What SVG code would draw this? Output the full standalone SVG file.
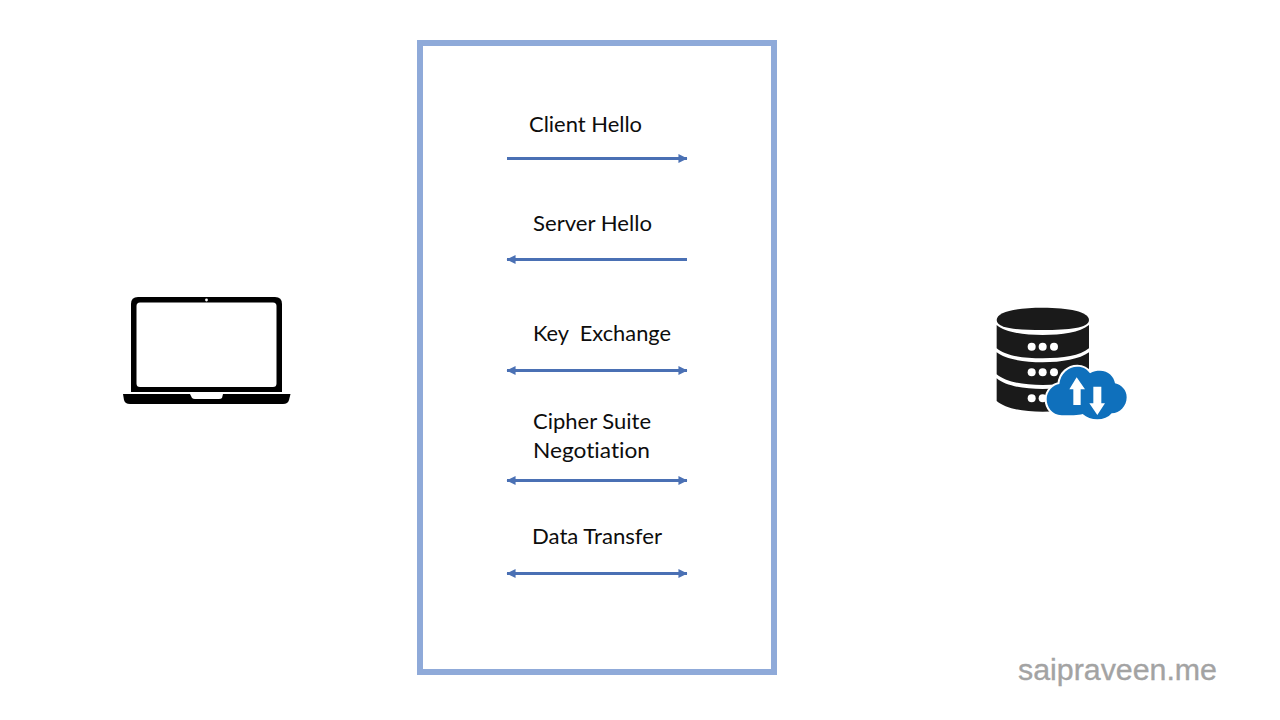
<svg xmlns="http://www.w3.org/2000/svg" width="1280" height="720" viewBox="0 0 1280 720">
<style>
.lbl{font-family:"Lato","Open Sans","Liberation Sans",sans-serif;font-size:21.5px;fill:#0d0d0d;white-space:pre;font-variant-ligatures:none}
.wm{font-family:"Liberation Sans",Arial,sans-serif;font-size:30px;fill:#a3a3a3;stroke:#a3a3a3;stroke-width:.35}
.conn{stroke:#4a70b4;stroke-width:3;fill:none}
.k{fill:#1a1a1a}
.w{fill:#fff}
.b{fill:#0f70bc}
</style>
<defs>
<marker id="ah" viewBox="0 0 10 10" refX="9.5" refY="5" markerWidth="3.1" markerHeight="3" orient="auto-start-reverse"><path d="M0 0L10 5L0 10Z" fill="#4a70b4"/></marker>
</defs>
<rect width="1280" height="720" fill="#fff"/>
<g id="frame"><rect x="420" y="43" width="354" height="629" fill="#fff" stroke="#8faad9" stroke-width="6"/></g>
<g id="laptop">
<path fill="#000" fill-rule="evenodd" d="M138 297H275Q282 297 282 304V392H131V304Q131 297 138 297ZM140 302.500Q136.500 302.500 136.500 306V383.500Q136.500 387 140 387H273Q276.500 387 276.500 383.500V306Q276.500 302.500 273 302.500Z"/>
<circle cx="206.500" cy="300" r="1.400" fill="#fff"/>
<path fill="#000" d="M123 394H190L192 398Q193 399 195 399H219Q221 399 222 398L223 394H290.500L289 400Q288 404 283 404H130Q125 404 124 400Z"/>
</g>
<g id="server">
<g transform="translate(980 295) scale(.3333)">
<path class="k" d="M50 75C50 50 110 38 188 38S327 50 327 75S266 105 188 105S50 100 50 75Z"/>
<path class="k" d="M50 90C75 112 130 120 188 120S300 112 327 90V160C300 182 250 190 188 190S75 182 50 160Z"/>
<path class="k" d="M50 172C75 192 130 202 188 202S300 192 327 172V238C300 260 250 270 188 270S75 260 50 238Z"/>
<path class="k" d="M50 250C75 272 130 282 188 282S300 272 327 250V318C300 340 250 350 188 350S75 340 50 318Z"/>
<g class="w"><circle cx="155" cy="155" r="12"/><circle cx="188" cy="155" r="12"/><circle cx="222" cy="155" r="12"/><circle cx="155" cy="232" r="12"/><circle cx="188" cy="232" r="12"/><circle cx="222" cy="232" r="12"/><circle cx="155" cy="310" r="12"/><circle cx="188" cy="310" r="12"/></g>
</g>
<g transform="translate(1040 360) scale(.3333)">
<path class="b" stroke="#fff" stroke-width="12" paint-order="stroke" stroke-linejoin="round" d="M65 166C35 166 20 140 20 118C20 92 40 75 58 72C62 40 85 20 112 20C130 20 142 28 150 40C160 33 170 32 180 32C205 32 222 50 225 70C245 75 260 90 260 112C260 138 240 160 215 160C205 172 190 178 172 178C155 178 140 172 128 162C115 166 90 166 65 166Z"/>
<path class="w" d="M110 52L135 88H122V135H100V88H88Z"/>
<path class="w" d="M172 165L195 130H184V80H160V130H148Z"/>
</g>
</g>
<g id="connectors">
<line class="conn" x1="507" y1="158.500" x2="687" y2="158.500" marker-end="url(#ah)"/>
<line class="conn" x1="687" y1="259.500" x2="507" y2="259.500" marker-end="url(#ah)"/>
<line class="conn" x1="507" y1="370.500" x2="687" y2="370.500" marker-start="url(#ah)" marker-end="url(#ah)"/>
<line class="conn" x1="507" y1="480.500" x2="687" y2="480.500" marker-start="url(#ah)" marker-end="url(#ah)"/>
<line class="conn" x1="507" y1="573.500" x2="687" y2="573.500" marker-start="url(#ah)" marker-end="url(#ah)"/>
</g>
<g id="labels">
<text class="lbl" x="529" y="132" textLength="113" lengthAdjust="spacingAndGlyphs">Client Hello</text>
<text class="lbl" x="533" y="231" textLength="119" lengthAdjust="spacingAndGlyphs">Server Hello</text>
<text class="lbl" x="533" y="341" textLength="138" lengthAdjust="spacingAndGlyphs">Key  Exchange</text>
<text class="lbl" x="533" y="429" textLength="118" lengthAdjust="spacingAndGlyphs">Cipher Suite</text>
<text class="lbl" x="533" y="458" textLength="117" lengthAdjust="spacingAndGlyphs">Negotiation</text>
<text class="lbl" x="532" y="544" textLength="130" lengthAdjust="spacingAndGlyphs">Data Transfer</text>
</g>
<g id="watermark"><text class="wm" x="1018" y="680" textLength="199" lengthAdjust="spacingAndGlyphs">saipraveen.me</text></g>
</svg>
